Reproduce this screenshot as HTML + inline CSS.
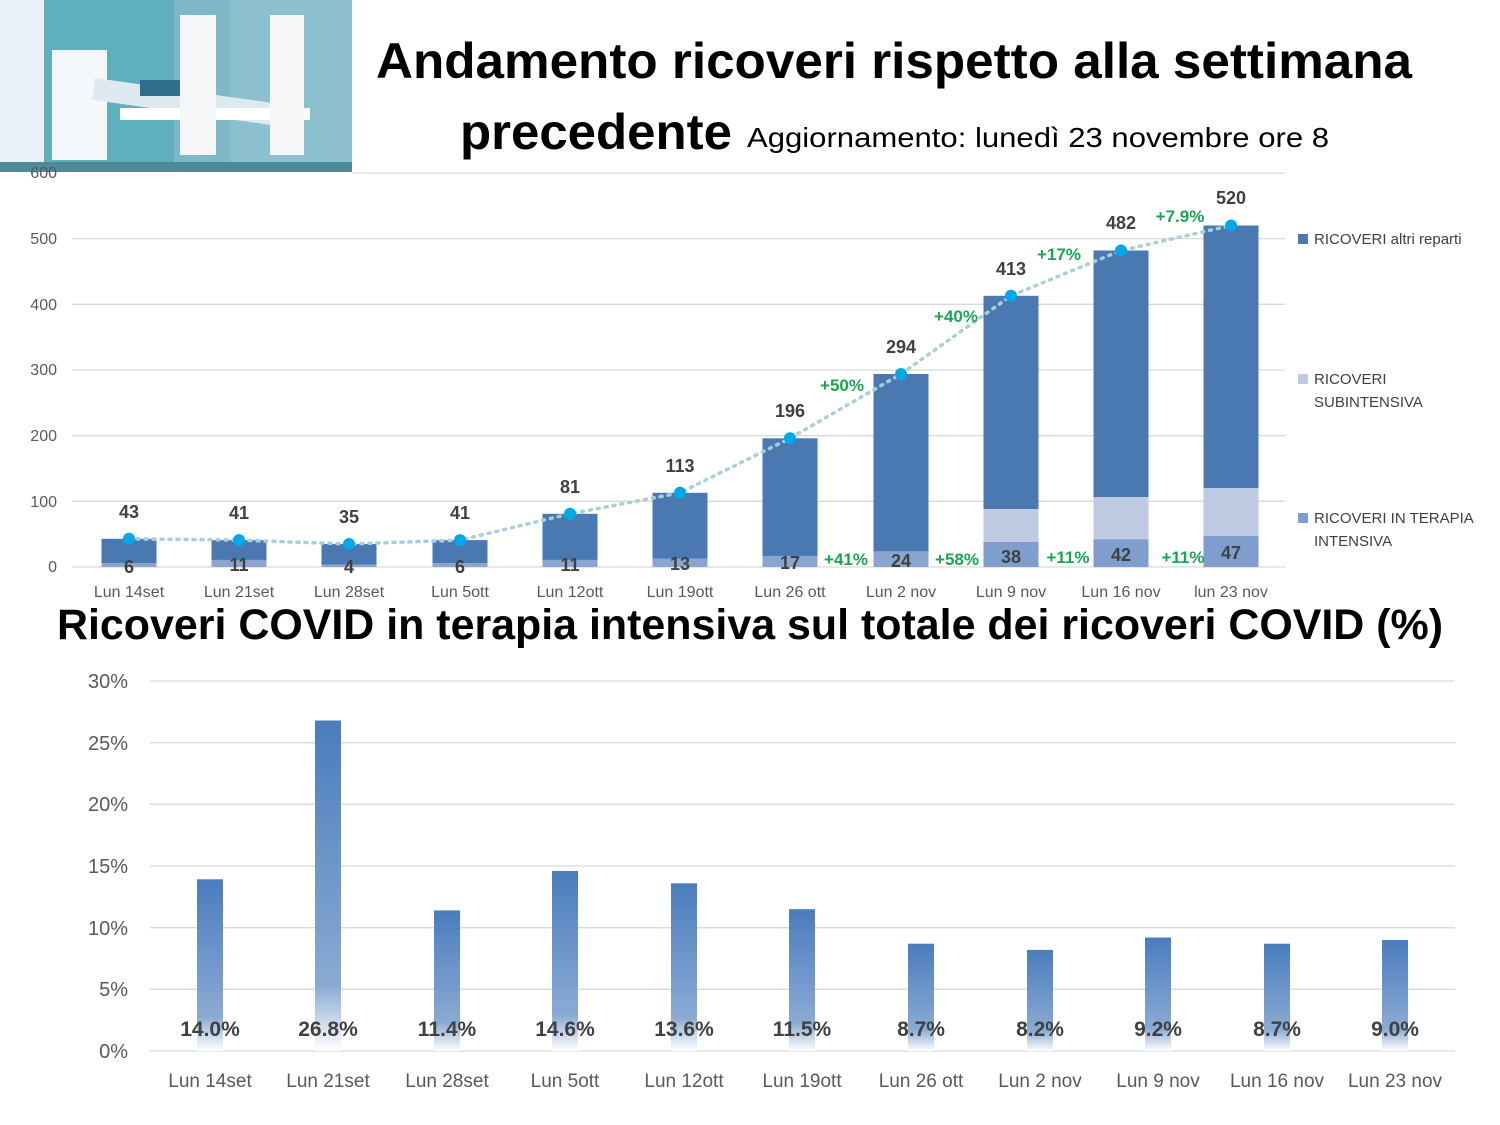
<!DOCTYPE html>
<html><head><meta charset="utf-8"><style>
html,body{margin:0;padding:0;background:#fff;}
svg{display:block;font-family:"Liberation Sans","DejaVu Sans",sans-serif;}
</style></head><body>
<svg width="1500" height="1125" viewBox="0 0 1500 1125" xmlns="http://www.w3.org/2000/svg">
<defs>
<linearGradient id="g" x1="0" y1="0" x2="0" y2="1">
<stop offset="0" stop-color="#4a7dbd"/><stop offset="0.8" stop-color="#8aaad3"/><stop offset="1" stop-color="#ffffff"/>
</linearGradient>
</defs>
<!-- image -->
<rect x="0" y="0" width="352" height="172" fill="#7fb8c8"/>
<rect x="0" y="0" width="44" height="162" fill="#e8f2f6"/>
<rect x="44" y="0" width="130" height="162" fill="#5fb0bf"/>
<rect x="230" y="0" width="122" height="162" fill="#8cc0cf"/>
<rect x="52" y="50" width="55" height="110" fill="#f4f8fa"/>
<rect x="95" y="78" width="180" height="22" fill="#dfeaf0" transform="rotate(8 95 78)"/>
<rect x="120" y="108" width="190" height="12" fill="#ffffff"/>
<rect x="180" y="15" width="36" height="140" fill="#f4f6f8"/>
<rect x="270" y="15" width="34" height="140" fill="#f4f6f8"/>
<rect x="140" y="80" width="40" height="16" fill="#2d6f8a"/>
<rect x="0" y="162" width="352" height="10" fill="#4d8a97"/>
<!-- title -->
<text x="376" y="78" font-size="50" font-weight="bold" fill="#000" textLength="1036" lengthAdjust="spacingAndGlyphs">Andamento ricoveri rispetto alla settimana</text>
<text x="460" y="149" font-size="50" font-weight="bold" fill="#000" textLength="272" lengthAdjust="spacingAndGlyphs">precedente</text>
<text x="747" y="147" font-size="28" fill="#000" textLength="582" lengthAdjust="spacingAndGlyphs">Aggiornamento: lunedì 23 novembre  ore 8</text>
<!-- top grid -->
<g stroke="#d9d9d9" stroke-width="1.3">
<line x1="352" y1="173" x2="1285" y2="173"/>
<line x1="72" y1="238.6" x2="1285" y2="238.6"/>
<line x1="72" y1="304.3" x2="1285" y2="304.3"/>
<line x1="72" y1="370" x2="1285" y2="370"/>
<line x1="72" y1="435.7" x2="1285" y2="435.7"/>
<line x1="72" y1="501.3" x2="1285" y2="501.3"/>
<line x1="72" y1="567" x2="1285" y2="567"/>
</g>
<g font-size="16" fill="#595959" text-anchor="end">
<text x="57" y="178">600</text><text x="57" y="244">500</text><text x="57" y="310">400</text>
<text x="57" y="375">300</text><text x="57" y="441">200</text><text x="57" y="507">100</text><text x="57" y="572">0</text>
</g>
<g>
<rect x="101.5" y="538.8" width="55" height="28.2" fill="#4a78b0"/><rect x="101.5" y="563" width="55" height="4" fill="#8aa5cf"/>
<rect x="211.5" y="540.1" width="55" height="26.9" fill="#4a78b0"/><rect x="211.5" y="559.8" width="55" height="7.2" fill="#8aa5cf"/>
<rect x="321.5" y="544" width="55" height="23" fill="#4a78b0"/><rect x="321.5" y="564.4" width="55" height="2.6" fill="#8aa5cf"/>
<rect x="432.5" y="540.1" width="55" height="26.9" fill="#4a78b0"/><rect x="432.5" y="563" width="55" height="4" fill="#8aa5cf"/>
<rect x="542.5" y="513.8" width="55" height="53.2" fill="#4a78b0"/><rect x="542.5" y="559.8" width="55" height="7.2" fill="#8aa5cf"/>
<rect x="652.5" y="492.8" width="55" height="74.2" fill="#4a78b0"/><rect x="652.5" y="558.5" width="55" height="8.5" fill="#8aa5cf"/>
<rect x="762.5" y="438.3" width="55" height="128.7" fill="#4a78b0"/><rect x="762.5" y="555.8" width="55" height="11.2" fill="#8aa5cf"/>
<rect x="873.5" y="374" width="55" height="193" fill="#4a78b0"/><rect x="873.5" y="551.2" width="55" height="15.8" fill="#8aa5cf"/>
<rect x="983.5" y="295.8" width="55" height="271.2" fill="#4a78b0"/><rect x="983.5" y="509" width="55" height="33" fill="#bdcae2"/><rect x="983.5" y="542" width="55" height="25" fill="#7f9ecd"/>
<rect x="1093.5" y="250.5" width="55" height="316.5" fill="#4a78b0"/><rect x="1093.5" y="497" width="55" height="43.4" fill="#bdcae2"/><rect x="1093.5" y="539.4" width="55" height="27.6" fill="#7f9ecd"/>
<rect x="1203.5" y="225.5" width="55" height="341.5" fill="#4a78b0"/><rect x="1203.5" y="488" width="55" height="48.1" fill="#bdcae2"/><rect x="1203.5" y="536.1" width="55" height="30.9" fill="#7f9ecd"/>
</g>
<polyline points="129,538.8 239,540.1 349,544 460,540.1 570,513.8 680,492.8 790,438.3 901,374 1011,295.8 1121,250.5 1231,225.5" fill="none" stroke="#a8cfdb" stroke-width="3.5" stroke-dasharray="2 6" stroke-linecap="round"/>
<g fill="#00a8e8">
<circle cx="129" cy="538.8" r="6"/><circle cx="239" cy="540.1" r="6"/><circle cx="349" cy="544" r="6"/><circle cx="460" cy="540.1" r="6"/><circle cx="570" cy="513.8" r="6"/><circle cx="680" cy="492.8" r="6"/><circle cx="790" cy="438.3" r="6"/><circle cx="901" cy="374" r="6"/><circle cx="1011" cy="295.8" r="6"/><circle cx="1121" cy="250.5" r="6"/><circle cx="1231" cy="225.5" r="6"/>
</g>
<g font-size="18" font-weight="bold" fill="#404040" text-anchor="middle">
<text x="129" y="518">43</text><text x="239" y="519">41</text><text x="349" y="523">35</text><text x="460" y="519">41</text>
<text x="570" y="493">81</text><text x="680" y="472">113</text><text x="790" y="417">196</text><text x="901" y="353">294</text>
<text x="1011" y="275">413</text><text x="1121" y="229">482</text><text x="1231" y="204">520</text>
<text x="129" y="573">6</text><text x="239" y="571">11</text><text x="349" y="573">4</text><text x="460" y="573">6</text>
<text x="570" y="571">11</text><text x="680" y="570">13</text><text x="790" y="569">17</text><text x="901" y="567">24</text>
<text x="1011" y="563">38</text><text x="1121" y="561">42</text><text x="1231" y="559">47</text>
</g>
<g font-size="17" font-weight="bold" fill="#1aa650" text-anchor="middle">
<text x="842" y="391">+50%</text><text x="956" y="322">+40%</text><text x="1059" y="260">+17%</text><text x="1180" y="222">+7.9%</text>
<text x="846" y="565">+41%</text><text x="957" y="565">+58%</text><text x="1068" y="563">+11%</text><text x="1183" y="563">+11%</text>
</g>
<g font-size="16" fill="#595959" text-anchor="middle">
<text x="129" y="597">Lun 14set</text><text x="239" y="597">Lun 21set</text><text x="349" y="597">Lun 28set</text><text x="460" y="597">Lun 5ott</text>
<text x="570" y="597">Lun 12ott</text><text x="680" y="597">Lun 19ott</text><text x="790" y="597">Lun 26 ott</text><text x="901" y="597">Lun 2 nov</text>
<text x="1011" y="597">Lun 9 nov</text><text x="1121" y="597">Lun 16 nov</text><text x="1231" y="597">lun 23 nov</text>
</g>
<rect x="1298" y="234" width="10" height="10" fill="#4a78b0"/>
<rect x="1298" y="374" width="10" height="10" fill="#bdcae2"/>
<rect x="1298" y="513" width="10" height="10" fill="#7f9ecd"/>
<g font-size="15" fill="#404040">
<text x="1314" y="244">RICOVERI altri reparti</text>
<text x="1314" y="384">RICOVERI</text><text x="1314" y="407">SUBINTENSIVA</text>
<text x="1314" y="523">RICOVERI IN TERAPIA</text><text x="1314" y="546">INTENSIVA</text>
</g>
<text x="57" y="639" font-size="43" font-weight="bold" fill="#000" textLength="1386" lengthAdjust="spacingAndGlyphs">Ricoveri COVID in terapia intensiva sul totale dei ricoveri COVID (%)</text>
<g stroke="#d9d9d9" stroke-width="1.3">
<line x1="150" y1="681" x2="1455" y2="681"/><line x1="150" y1="742.7" x2="1455" y2="742.7"/>
<line x1="150" y1="804.3" x2="1455" y2="804.3"/><line x1="150" y1="866" x2="1455" y2="866"/>
<line x1="150" y1="927.7" x2="1455" y2="927.7"/><line x1="150" y1="989.3" x2="1455" y2="989.3"/>
<line x1="150" y1="1051" x2="1455" y2="1051"/>
</g>
<g font-size="20" fill="#595959" text-anchor="end">
<text x="128" y="688">30%</text><text x="128" y="750">25%</text><text x="128" y="811">20%</text><text x="128" y="873">15%</text>
<text x="128" y="935">10%</text><text x="128" y="996">5%</text><text x="128" y="1058">0%</text>
</g>
<g fill="url(#g)">
<rect x="197" y="879.3" width="26" height="171.7"/>
<rect x="315" y="720.5" width="26" height="330.5"/>
<rect x="434" y="910.4" width="26" height="140.6"/>
<rect x="552" y="871" width="26" height="180"/>
<rect x="671" y="883.3" width="26" height="167.7"/>
<rect x="789" y="909.2" width="26" height="141.8"/>
<rect x="908" y="943.7" width="26" height="107.3"/>
<rect x="1027" y="949.9" width="26" height="101.1"/>
<rect x="1145" y="937.5" width="26" height="113.5"/>
<rect x="1264" y="943.7" width="26" height="107.3"/>
<rect x="1382" y="940" width="26" height="111"/>
</g>
<g font-size="21" font-weight="bold" fill="#404040" text-anchor="middle">
<text x="210" y="1036">14.0%</text><text x="328" y="1036">26.8%</text><text x="447" y="1036">11.4%</text><text x="565" y="1036">14.6%</text>
<text x="684" y="1036">13.6%</text><text x="802" y="1036">11.5%</text><text x="921" y="1036">8.7%</text><text x="1040" y="1036">8.2%</text>
<text x="1158" y="1036">9.2%</text><text x="1277" y="1036">8.7%</text><text x="1395" y="1036">9.0%</text>
</g>
<g font-size="19" fill="#595959" text-anchor="middle">
<text x="210" y="1087">Lun 14set</text><text x="328" y="1087">Lun 21set</text><text x="447" y="1087">Lun 28set</text><text x="565" y="1087">Lun 5ott</text>
<text x="684" y="1087">Lun 12ott</text><text x="802" y="1087">Lun 19ott</text><text x="921" y="1087">Lun 26 ott</text><text x="1040" y="1087">Lun 2 nov</text>
<text x="1158" y="1087">Lun 9 nov</text><text x="1277" y="1087">Lun 16 nov</text><text x="1395" y="1087">Lun 23 nov</text>
</g>
</svg>
</body></html>
